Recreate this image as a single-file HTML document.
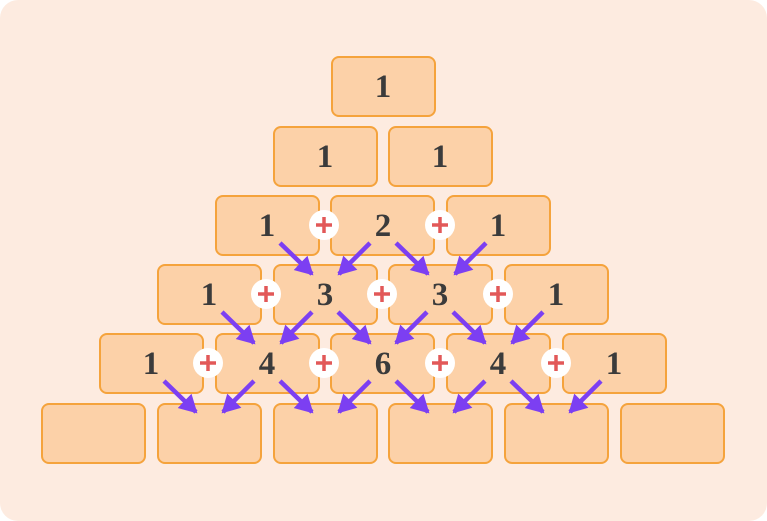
<!DOCTYPE html>
<html><head><meta charset="utf-8"><style>
html,body{margin:0;padding:0;background:#fff;}
svg{display:block}
text{font-family:"Liberation Serif",serif;font-weight:bold;font-size:33px;fill:#3b3b3b;text-anchor:middle}
.b{fill:#fcd1a8;stroke:#f5a33c;stroke-width:2}
.p{fill:#fff}
.ps{stroke:#e25858;stroke-width:3.5}
.a{stroke:#7c3ff2;stroke-width:4.5;fill:none}
</style></head><body>
<svg width="767" height="521" viewBox="0 0 767 521">
<defs><marker id="m" markerUnits="userSpaceOnUse" markerWidth="24" markerHeight="24" refX="16" refY="10" orient="auto"><path d="M0,0 L18,10 L0,20 Z" fill="#7c3ff2"/></marker></defs>
<rect x="0" y="0" width="767" height="521" rx="18" fill="#fdebe0"/>
<g class="b">
<rect x="332" y="57" width="103" height="59" rx="7"/>
<rect x="274" y="127" width="103" height="59" rx="7"/><rect x="389" y="127" width="103" height="59" rx="7"/>
<rect x="216" y="196" width="103" height="59" rx="7"/><rect x="331" y="196" width="103" height="59" rx="7"/><rect x="447" y="196" width="103" height="59" rx="7"/>
<rect x="158" y="265" width="103" height="59" rx="7"/><rect x="274" y="265" width="103" height="59" rx="7"/><rect x="389" y="265" width="103" height="59" rx="7"/><rect x="505" y="265" width="103" height="59" rx="7"/>
<rect x="100" y="334" width="103" height="59" rx="7"/><rect x="216" y="334" width="103" height="59" rx="7"/><rect x="331" y="334" width="103" height="59" rx="7"/><rect x="447" y="334" width="103" height="59" rx="7"/><rect x="563" y="334" width="103" height="59" rx="7"/>
<rect x="42" y="404" width="103" height="59" rx="7"/><rect x="158" y="404" width="103" height="59" rx="7"/><rect x="274" y="404" width="103" height="59" rx="7"/><rect x="389" y="404" width="103" height="59" rx="7"/><rect x="505" y="404" width="103" height="59" rx="7"/><rect x="621" y="404" width="103" height="59" rx="7"/>
</g>
<text x="383" y="97">1</text>
<text x="325" y="167">1</text><text x="440" y="167">1</text>
<text x="267" y="236">1</text><text x="383" y="236">2</text><text x="498" y="236">1</text>
<text x="209" y="305">1</text><text x="325" y="305">3</text><text x="440" y="305">3</text><text x="556" y="305">1</text>
<text x="151" y="374">1</text><text x="267" y="374">4</text><text x="383" y="374">6</text><text x="498" y="374">4</text><text x="614" y="374">1</text>
<g class="a" marker-end="url(#m)">
<!-- row2 -->
<line x1="280" y1="243" x2="312" y2="274"/>
<line x1="370" y1="243" x2="339" y2="274"/><line x1="396" y1="243" x2="428" y2="274"/>
<line x1="486" y1="243" x2="455" y2="274"/>
<!-- row3 -->
<line x1="222" y1="312" x2="254" y2="343"/>
<line x1="312" y1="312" x2="281" y2="343"/><line x1="338" y1="312" x2="370" y2="343"/>
<line x1="427" y1="312" x2="396" y2="343"/><line x1="453" y1="312" x2="485" y2="343"/>
<line x1="543" y1="312" x2="512" y2="343"/>
<!-- row4 -->
<line x1="164" y1="381" x2="196" y2="412"/>
<line x1="254" y1="381" x2="223" y2="412"/><line x1="280" y1="381" x2="312" y2="412"/>
<line x1="370" y1="381" x2="339" y2="412"/><line x1="396" y1="381" x2="428" y2="412"/>
<line x1="485" y1="381" x2="454" y2="412"/><line x1="511" y1="381" x2="543" y2="412"/>
<line x1="601" y1="381" x2="570" y2="412"/>
</g>
<g>
<circle class="p" cx="324" cy="225" r="15"/><circle class="p" cx="440" cy="225" r="15"/>
<circle class="p" cx="266" cy="294" r="15"/><circle class="p" cx="382" cy="294" r="15"/><circle class="p" cx="498" cy="294" r="15"/>
<circle class="p" cx="208" cy="363" r="15"/><circle class="p" cx="324" cy="363" r="15"/><circle class="p" cx="440" cy="363" r="15"/><circle class="p" cx="556" cy="363" r="15"/>
</g>
<g class="ps">
<path d="M316,225h16M324,217v16"/><path d="M432,225h16M440,217v16"/>
<path d="M258,294h16M266,286v16"/><path d="M374,294h16M382,286v16"/><path d="M490,294h16M498,286v16"/>
<path d="M200,363h16M208,355v16"/><path d="M316,363h16M324,355v16"/><path d="M432,363h16M440,355v16"/><path d="M548,363h16M556,355v16"/>
</g>
</svg>
</body></html>
